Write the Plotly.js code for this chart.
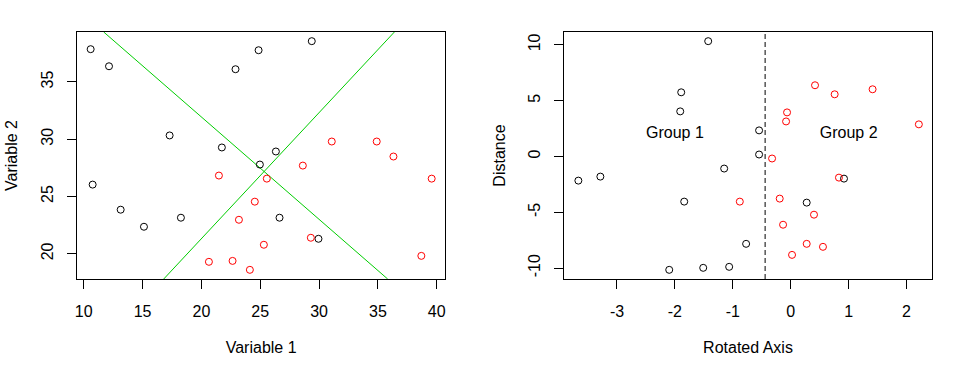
<!DOCTYPE html>
<html>
<head>
<meta charset="utf-8">
<script src="https://cdn.plot.ly/plotly-3.0.1.min.js"></script>
<style>html,body{margin:0;padding:0;background:#fff;}#chart{width:968px;height:370px;}</style>
</head>
<body>
<div id="chart"></div>
<script>
// Left panel: original variables
const g1Var1 = [10.59, 12.15, 24.86, 29.38, 22.90, 17.30, 21.74, 26.33, 24.97, 10.76, 13.14, 15.12, 18.26, 26.64, 29.95];
const g1Var2 = [37.86, 36.37, 37.77, 38.56, 36.11, 30.33, 29.28, 28.93, 27.79, 26.04, 23.85, 22.36, 23.15, 23.15, 21.31];
const g2Var1 = [21.49, 25.56, 28.62, 31.08, 34.90, 36.32, 39.57, 24.54, 23.19, 25.31, 29.30, 20.64, 22.65, 24.12, 38.69];
const g2Var2 = [26.83, 26.56, 27.70, 29.80, 29.80, 28.49, 26.56, 24.55, 22.97, 20.79, 21.40, 19.30, 19.38, 18.60, 19.82];
// Green separating lines (two points each)
const lineAX = [11.70, 35.83];
const lineAY = [39.36, 17.80];
const lineBX = [16.80, 36.40];
const lineBY = [17.80, 39.36];

// Right panel: rotated axis vs distance
const g1Rot  = [-1.425, -1.891, -1.908, -0.546, -0.546, -1.149, -3.667, -3.287, -1.839, 0.920, 0.276, -0.770, -2.098, -1.511, -1.063];
const g1Dist = [10.33, 5.75, 4.04, 2.34, 0.18, -1.08, -2.16, -1.80, -4.04, -1.98, -4.13, -7.82, -10.15, -9.97, -9.88];
const g2Rot  = [0.420, 0.759, 1.414, -0.063, -0.080, 2.213, -0.322, 0.833, -0.879, -0.190, 0.402, -0.132, 0.276, 0.557, 0.023];
const g2Dist = [6.38, 5.57, 6.02, 3.95, 3.14, 2.88, -0.18, -1.89, -4.04, -3.77, -5.21, -6.11, -7.82, -8.09, -8.81];
const cutoff = -0.442;
const groupLabels = ["Group 1", "Group 2"];
const groupLabelX = [-2.0, 1.0];
const groupLabelY = [2.0, 2.0];

const xTicks1 = [10, 15, 20, 25, 30, 35, 40];
const yTicks1 = [20, 25, 30, 35];
const xTicks2 = [-3, -2, -1, 0, 1, 2];
const yTicks2 = [-10, -5, 0, 5, 10];

const FONT = "Liberation Sans, Arial, sans-serif";
const mk = c => ({symbol: 'circle-open', size: 7, color: c, line: {width: 1, color: c}});

const traces = [
  {x: lineAX, y: lineAY, mode: 'lines', line: {color: '#00CD00', width: 1}, xaxis: 'x', yaxis: 'y', hoverinfo: 'skip'},
  {x: lineBX, y: lineBY, mode: 'lines', line: {color: '#00CD00', width: 1}, xaxis: 'x', yaxis: 'y', hoverinfo: 'skip'},
  {x: g1Var1, y: g1Var2, mode: 'markers', marker: mk('#000000'), xaxis: 'x', yaxis: 'y'},
  {x: g2Var1, y: g2Var2, mode: 'markers', marker: mk('#FF0000'), xaxis: 'x', yaxis: 'y'},
  {x: g1Rot, y: g1Dist, mode: 'markers', marker: mk('#000000'), xaxis: 'x2', yaxis: 'y2'},
  {x: g2Rot, y: g2Dist, mode: 'markers', marker: mk('#FF0000'), xaxis: 'x2', yaxis: 'y2'},
  {x: groupLabelX, y: groupLabelY, text: groupLabels, mode: 'text', textposition: 'middle center',
   textfont: {family: FONT, size: 16, color: '#000'}, xaxis: 'x2', yaxis: 'y2', hoverinfo: 'skip'}
];

const axBase = {
  showline: true, mirror: true, linecolor: '#000', linewidth: 1,
  ticks: 'outside', ticklen: 9, tickcolor: '#000', tickwidth: 1,
  showgrid: false, zeroline: false, tickmode: 'array',
  tickfont: {family: FONT, size: 16, color: '#000'}
};
const xAx = (domain, range, ticks, title) => Object.assign({}, axBase, {
  domain, range, tickvals: ticks, ticktext: ticks.map(String), ticklabelstandoff: 9,
  title: {text: title, font: {family: FONT, size: 16, color: '#000'}, standoff: 22}
});
const yAx = (anchor, range, ticks, title) => Object.assign({}, axBase, {
  anchor, range, tickvals: ticks, ticktext: ticks.map(String), tickangle: -90, ticklabelstandoff: 8,
  title: {text: title, font: {family: FONT, size: 16, color: '#000'}, standoff: 16}
});

const layout = {
  width: 968, height: 370,
  margin: {l: 77, r: 36, t: 32, b: 91},
  paper_bgcolor: '#fff', plot_bgcolor: '#fff',
  showlegend: false,
  font: {family: FONT, size: 16, color: '#000'},
  xaxis: Object.assign(xAx([0, 0.4308], [9.43, 40.73], xTicks1, 'Variable 1'), {anchor: 'y'}),
  yaxis: yAx('x', [17.80, 39.36], yTicks1, 'Variable 2'),
  xaxis2: Object.assign(xAx([0.5696, 1], [-3.915, 2.44], xTicks2, 'Rotated Axis'), {anchor: 'y2'}),
  yaxis2: yAx('x2', [-10.97, 11.15], yTicks2, 'Distance'),
  shapes: [{type: 'line', xref: 'x2', yref: 'y2 domain', x0: cutoff, x1: cutoff, y0: 0, y1: 1,
            line: {color: '#000', width: 1, dash: '5px,3px'}}]
};

Plotly.newPlot('chart', traces, layout, {staticPlot: true, displayModeBar: false});
</script>
</body>
</html>
